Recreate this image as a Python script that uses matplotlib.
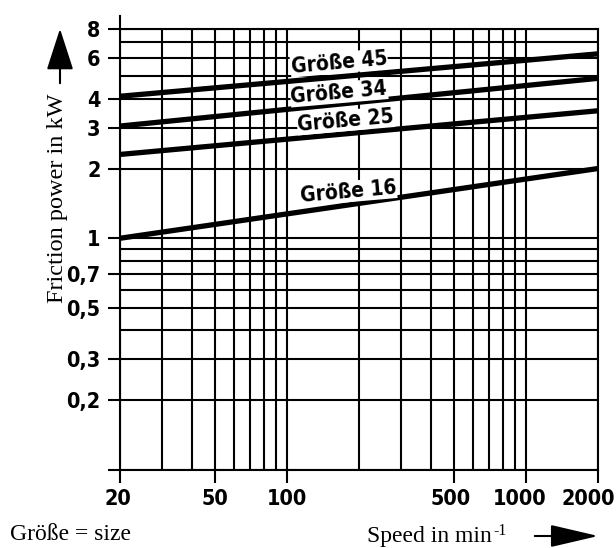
import numpy as np
import matplotlib
matplotlib.use("Agg")
import matplotlib.pyplot as plt
import matplotlib.transforms as mtransforms
from matplotlib import font_manager
from matplotlib.font_manager import FontProperties
from matplotlib.ticker import FixedLocator, FixedFormatter, NullFormatter

# speed range and friction power at both ends (straight lines in log-log)
speed = [20, 2000]
sizes = ["Größe 45", "Größe 34", "Größe 25", "Größe 16"]
power_45 = [4.1, 6.25]
power_34 = [3.05, 4.9]
power_25 = [2.3, 3.55]
power_16 = [1.0, 2.0]
label_pos = [(165, 5.72), (165, 4.25), (176, 3.22), (180, 1.59)]

x_major = [20, 50, 100, 500, 1000, 2000]
x_shift = [-2, 0, 0, -3, -6, -10]   # px, labels sit a bit left in the drawing
x_minor = [30, 40, 60, 70, 80, 90, 200, 300, 400, 600, 700, 800, 900]
y_major = [0.1, 0.2, 0.3, 0.5, 0.7, 1, 2, 3, 4, 6, 8]
y_labels = ["", "0,2", "0,3", "0,5", "0,7", "1", "2", "3", "4", "6", "8"]
y_minor = [0.4, 0.6, 0.8, 0.9, 5, 7]


def narrow_font(bold):
    # condensed sans face, the drawing uses a narrow DIN lettering
    want = "DejaVuSansCondensed-Bold.ttf" if bold else "DejaVuSansCondensed.ttf"
    for f in font_manager.fontManager.ttflist:
        if f.fname.endswith(want):
            return f.fname
    return None


nf = narrow_font(True)
if nf:
    tick_fp = FontProperties(fname=nf, size=15.5)
    lab_fp = FontProperties(fname=nf, size=15)
else:
    tick_fp = FontProperties(family="Roboto", weight="bold", size=14.5)
    lab_fp = FontProperties(family="Roboto", weight="bold", size=14)
serif = "Liberation Serif"

fig = plt.figure(figsize=(6.16, 5.48), dpi=100)
ax = fig.add_axes([120/616, 1-470/548, 478/616, 441/548])
ax.set_xscale("log")
ax.set_yscale("log")
ax.set_xlim(20, 2000)
ax.set_ylim(0.1, 8)

ax.xaxis.set_major_locator(FixedLocator(x_major))
ax.xaxis.set_major_formatter(FixedFormatter([str(v) for v in x_major]))
ax.xaxis.set_minor_locator(FixedLocator(x_minor))
ax.xaxis.set_minor_formatter(NullFormatter())
ax.yaxis.set_major_locator(FixedLocator(y_major))
ax.yaxis.set_major_formatter(FixedFormatter(y_labels))
ax.yaxis.set_minor_locator(FixedLocator(y_minor))
ax.yaxis.set_minor_formatter(NullFormatter())

ax.grid(which="both", color="black", lw=1.5)
ax.tick_params(which="major", direction="out", length=9, width=1.5, pad=5)
ax.tick_params(which="minor", length=0)
for lab in ax.get_xticklabels() + ax.get_yticklabels():
    lab.set_fontproperties(tick_fp)
for lab, dx in zip(ax.get_xticklabels(), x_shift):
    lab.set_transform(lab.get_transform() +
                      mtransforms.ScaledTranslation(dx/100, 0, fig.dpi_scale_trans))

for sp in ax.spines.values():
    sp.set_linewidth(1.5)
ax.spines["left"].set_bounds(0.1, 9.1)

for vals in [power_45, power_34, power_25, power_16]:
    ax.plot(speed, vals, color="black", lw=3.8, solid_capstyle="butt")

for name, (px, py) in zip(sizes, label_pos):
    ax.text(px, py, name, fontproperties=lab_fp, rotation=5,
            rotation_mode="anchor", ha="center", va="center",
            bbox=dict(facecolor="white", edgecolor="none", pad=0.5))

fig.text(57/616, 1-198/548, "Friction power in kW", family=serif, fontsize=17.5,
         rotation=90, ha="center", va="center")
fig.add_artist(matplotlib.patches.FancyArrowPatch(
    (60/616, 1-86/548), (60/616, 1-26/548), transform=fig.transFigure,
    arrowstyle="-|>,head_length=1.3,head_width=0.42", mutation_scale=20,
    color="black", lw=1.5))

sp_txt = fig.text(367/616, 1-542/548, "Speed in min", family=serif,
                  fontsize=17, ha="left", va="baseline")
fig.canvas.draw()
bb = sp_txt.get_window_extent(fig.canvas.get_renderer())
fig.text((bb.x1 + 2)/616, 1-535/548, "-1", family=serif, fontsize=11.5,
         ha="left", va="baseline")
fig.add_artist(matplotlib.patches.FancyArrowPatch(
    (532/616, 1-536/548), (601/616, 1-536/548), transform=fig.transFigure,
    arrowstyle="-|>,head_length=1.5,head_width=0.35", mutation_scale=20,
    color="black", lw=1.5))

fig.text(10/616, 1-540/548, "Größe = size", family=serif, fontsize=17,
         ha="left", va="baseline")

fig.savefig("out.png", dpi=100)
